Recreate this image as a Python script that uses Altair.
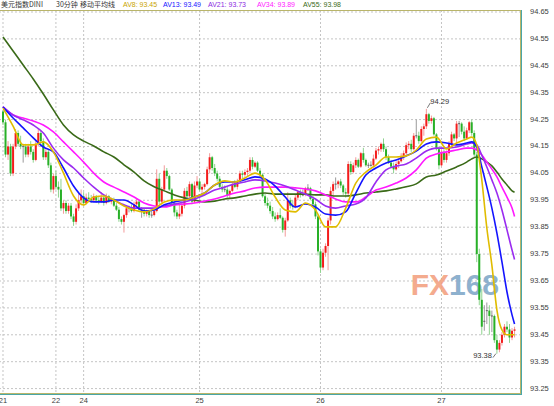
import altair as alt
import numpy as np
import pandas as pd

# ---- 30-minute candles of the US dollar index (bar 0 = first bar on the 21st) ----
opens = [
    94.280, 94.240, 94.120, 94.150, 94.050, 94.150, 94.200, 94.160, 94.150, 94.150,
    94.120, 94.150, 94.130, 94.100, 94.160, 94.200, 94.170, 94.110, 94.130, 94.080,
    93.990, 94.040, 94.000, 93.990, 93.920, 93.940, 93.910, 93.930, 93.890, 93.870,
    93.920, 93.950, 93.965, 93.940, 93.960, 93.955, 93.950, 93.965, 93.950, 93.945,
    93.960, 93.940, 93.965, 93.945, 93.955, 93.930, 93.915, 93.880, 93.870, 93.895,
    93.920, 93.920, 93.910, 93.935, 93.945, 93.915, 93.915, 93.900, 93.910, 93.895,
    93.895, 93.910, 94.030, 93.945, 93.990, 94.060, 94.040, 93.990, 93.940, 93.905,
    93.890, 93.900, 93.930, 93.985, 93.965, 94.010, 93.945, 94.005, 94.020, 93.990,
    94.000, 94.010, 94.065, 94.110, 94.070, 94.050, 94.030, 94.000, 93.990, 93.990,
    93.970, 93.985, 94.010, 94.000, 94.020, 94.050, 94.045, 94.055, 94.060, 94.100,
    94.075, 94.090, 94.060, 94.045, 93.965, 93.940, 93.930, 93.910, 93.890, 93.880,
    93.895, 93.885, 93.840, 93.875, 93.950, 93.930, 93.925, 93.960, 93.980, 93.970,
    93.970, 93.995, 93.995, 93.955, 93.935, 93.890, 93.760, 93.700, 93.755, 93.780,
    93.875, 93.985, 94.010, 94.010, 94.020, 94.005, 93.980, 93.975, 94.085, 94.055,
    94.080, 94.100, 94.075, 94.125, 94.100, 94.080, 94.080, 94.080, 94.105, 94.135,
    94.140, 94.160, 94.140, 94.110, 94.090, 94.075, 94.065, 94.085, 94.095, 94.115,
    94.125, 94.155, 94.160, 94.140, 94.190, 94.190, 94.170, 94.215, 94.225, 94.270,
    94.245, 94.255, 94.195, 94.140, 94.080, 94.130, 94.100, 94.125, 94.160, 94.195,
    94.180, 94.235, 94.235, 94.205, 94.180, 94.210, 94.240, 94.200, 94.120, 93.750,
    93.580, 93.500, 93.540, 93.540, 93.520, 93.520, 93.430, 93.395, 93.420, 93.450,
    93.480, 93.470, 93.440, 93.465,
]
highs = [
    94.285, 94.250, 94.170, 94.160, 94.160, 94.215, 94.210, 94.190, 94.160, 94.160,
    94.160, 94.170, 94.140, 94.175, 94.215, 94.210, 94.180, 94.140, 94.140, 94.090,
    94.050, 94.060, 94.020, 94.030, 93.950, 93.950, 93.940, 93.940, 93.900, 93.935,
    93.975, 93.990, 93.980, 93.975, 93.980, 93.970, 93.975, 93.970, 93.965, 93.980,
    93.970, 93.975, 93.970, 93.960, 93.960, 93.940, 93.925, 93.890, 93.900, 93.930,
    93.930, 93.935, 93.945, 93.955, 93.950, 93.925, 93.920, 93.915, 93.915, 93.910,
    93.915, 94.065, 94.050, 94.000, 94.080, 94.070, 94.045, 93.995, 93.950, 93.915,
    93.935, 93.940, 93.995, 94.000, 94.020, 94.015, 94.020, 94.040, 94.030, 94.010,
    94.015, 94.075, 94.125, 94.115, 94.085, 94.060, 94.040, 94.010, 94.005, 94.000,
    93.990, 94.020, 94.025, 94.030, 94.060, 94.060, 94.065, 94.070, 94.110, 94.110,
    94.095, 94.095, 94.070, 94.050, 93.975, 93.960, 93.945, 93.925, 93.905, 93.905,
    93.920, 93.890, 93.885, 93.980, 93.960, 93.950, 93.970, 93.985, 93.990, 93.990,
    94.000, 94.010, 94.000, 93.970, 93.945, 93.895, 93.770, 93.770, 93.790, 93.885,
    94.000, 94.020, 94.035, 94.025, 94.030, 94.010, 93.995, 94.095, 94.095, 94.090,
    94.110, 94.105, 94.130, 94.145, 94.105, 94.090, 94.095, 94.120, 94.145, 94.150,
    94.165, 94.180, 94.150, 94.120, 94.100, 94.090, 94.095, 94.105, 94.125, 94.135,
    94.165, 94.170, 94.175, 94.200, 94.250, 94.205, 94.225, 94.235, 94.290, 94.275,
    94.265, 94.260, 94.200, 94.150, 94.140, 94.140, 94.135, 94.170, 94.205, 94.200,
    94.245, 94.245, 94.240, 94.225, 94.220, 94.245, 94.250, 94.210, 94.130, 93.770,
    93.620, 93.560, 93.570, 93.560, 93.540, 93.525, 93.450, 93.430, 93.460, 93.490,
    93.500, 93.490, 93.475, 93.480,
]
lows = [
    94.230, 94.110, 94.100, 94.040, 94.040, 94.140, 94.150, 94.140, 94.090, 94.110,
    94.110, 94.120, 94.090, 94.095, 94.150, 94.160, 94.100, 94.100, 94.070, 93.980,
    93.975, 93.990, 93.960, 93.910, 93.900, 93.900, 93.900, 93.880, 93.855, 93.860,
    93.910, 93.940, 93.930, 93.935, 93.945, 93.940, 93.945, 93.940, 93.935, 93.940,
    93.930, 93.935, 93.940, 93.935, 93.925, 93.910, 93.870, 93.860, 93.830, 93.885,
    93.905, 93.905, 93.905, 93.925, 93.910, 93.885, 93.890, 93.890, 93.885, 93.885,
    93.890, 93.905, 93.935, 93.935, 93.985, 94.030, 93.985, 93.935, 93.890, 93.880,
    93.880, 93.890, 93.920, 93.960, 93.960, 93.935, 93.940, 93.995, 93.985, 93.975,
    93.990, 94.005, 94.050, 94.060, 94.040, 94.020, 93.995, 93.980, 93.980, 93.960,
    93.955, 93.980, 93.995, 93.990, 94.015, 94.030, 94.035, 94.040, 94.050, 94.065,
    94.070, 94.055, 94.035, 93.960, 93.930, 93.920, 93.900, 93.880, 93.870, 93.875,
    93.880, 93.830, 93.815, 93.870, 93.920, 93.915, 93.920, 93.950, 93.960, 93.965,
    93.965, 93.985, 93.950, 93.925, 93.880, 93.745, 93.680, 93.690, 93.740, 93.690,
    93.860, 93.965, 93.990, 93.995, 93.995, 93.970, 93.960, 93.970, 94.045, 94.050,
    94.070, 94.070, 94.070, 94.090, 94.075, 94.070, 94.075, 94.075, 94.100, 94.120,
    94.130, 94.130, 94.100, 94.085, 94.070, 94.050, 94.060, 94.070, 94.090, 94.100,
    94.120, 94.140, 94.130, 94.135, 94.180, 94.160, 94.165, 94.190, 94.215, 94.235,
    94.235, 94.190, 94.135, 94.065, 94.075, 94.090, 94.090, 94.115, 94.150, 94.170,
    94.160, 94.185, 94.195, 94.170, 94.175, 94.200, 94.190, 94.110, 93.720, 93.560,
    93.450, 93.465, 93.490, 93.450, 93.460, 93.420, 93.380, 93.385, 93.410, 93.440,
    93.460, 93.420, 93.430, 93.440,
]
closes = [
    94.240, 94.120, 94.150, 94.050, 94.150, 94.200, 94.160, 94.150, 94.150, 94.120,
    94.150, 94.130, 94.100, 94.160, 94.200, 94.170, 94.110, 94.130, 94.080, 93.990,
    94.040, 94.000, 93.990, 93.920, 93.940, 93.910, 93.930, 93.890, 93.870, 93.920,
    93.950, 93.965, 93.940, 93.960, 93.955, 93.950, 93.965, 93.950, 93.945, 93.960,
    93.940, 93.965, 93.945, 93.955, 93.930, 93.915, 93.880, 93.870, 93.895, 93.920,
    93.920, 93.910, 93.935, 93.945, 93.915, 93.915, 93.900, 93.910, 93.895, 93.895,
    93.910, 94.030, 93.945, 93.990, 94.060, 94.040, 93.990, 93.940, 93.905, 93.890,
    93.900, 93.930, 93.985, 93.965, 94.010, 93.945, 94.005, 94.020, 93.990, 94.000,
    94.010, 94.065, 94.110, 94.070, 94.050, 94.030, 94.000, 93.990, 93.990, 93.970,
    93.985, 94.010, 94.000, 94.020, 94.050, 94.045, 94.055, 94.060, 94.100, 94.075,
    94.090, 94.060, 94.045, 93.965, 93.940, 93.930, 93.910, 93.890, 93.880, 93.895,
    93.885, 93.840, 93.875, 93.950, 93.930, 93.925, 93.960, 93.980, 93.970, 93.970,
    93.995, 93.995, 93.955, 93.935, 93.890, 93.760, 93.700, 93.755, 93.780, 93.875,
    93.985, 94.010, 94.010, 94.020, 94.005, 93.980, 93.975, 94.085, 94.055, 94.080,
    94.100, 94.075, 94.125, 94.100, 94.080, 94.080, 94.080, 94.105, 94.135, 94.140,
    94.160, 94.140, 94.110, 94.090, 94.075, 94.065, 94.085, 94.095, 94.115, 94.125,
    94.155, 94.160, 94.140, 94.190, 94.190, 94.170, 94.215, 94.225, 94.270, 94.245,
    94.255, 94.195, 94.140, 94.080, 94.130, 94.100, 94.125, 94.160, 94.195, 94.180,
    94.235, 94.235, 94.205, 94.180, 94.210, 94.240, 94.200, 94.120, 93.750, 93.580,
    93.480, 93.500, 93.540, 93.520, 93.520, 93.430, 93.395, 93.420, 93.450, 93.480,
    93.470, 93.440, 93.465, 93.470,
]

# ---- moving averages, sampled at these bars ----
ma_bars = list(range(0, 185, 4)) + list(range(186, 203, 2)) + [203]
av8 = [
    94.293, 94.226, 94.156, 94.156, 94.167, 94.130, 94.051, 93.966, 93.933, 93.962,
    93.966, 93.951, 93.929, 93.914, 93.907, 93.918, 93.944, 93.951, 93.951, 93.962,
    93.977, 94.007, 94.022, 94.018, 94.033, 94.051, 94.026, 93.962, 93.914, 93.907,
    93.940, 93.914, 93.851, 93.851, 93.921, 94.014, 94.055, 94.081, 94.111, 94.111,
    94.115, 94.137, 94.178, 94.185, 94.141, 94.163, 94.178, 94.185, 94.156, 94.026,
    93.847, 93.709, 93.542, 93.468, 93.450, 93.450, 93.450,
]
av13 = [
    94.297, 94.256, 94.219, 94.182, 94.148, 94.130, 94.070, 94.003, 93.959, 93.944,
    93.944, 93.951, 93.951, 93.933, 93.910, 93.914, 93.933, 93.944, 93.951, 93.962,
    93.977, 94.007, 94.018, 94.018, 94.026, 94.037, 94.029, 94.003, 93.962, 93.925,
    93.936, 93.925, 93.899, 93.895, 93.907, 93.977, 94.044, 94.070, 94.089, 94.100,
    94.115, 94.133, 94.159, 94.167, 94.163, 94.156, 94.163, 94.167, 94.148, 94.074,
    94.000, 93.921, 93.828, 93.721, 93.609, 93.524, 93.490,
]
av21 = [
    94.297, 94.267, 94.249, 94.230, 94.200, 94.144, 94.100, 94.070, 94.033, 93.999,
    93.970, 93.951, 93.933, 93.921, 93.921, 93.921, 93.929, 93.936, 93.944, 93.955,
    93.970, 93.988, 93.999, 94.011, 94.018, 94.026, 94.022, 94.014, 94.003, 93.988,
    93.973, 93.955, 93.929, 93.921, 93.929, 93.936, 93.959, 94.018, 94.063, 94.077,
    94.085, 94.107, 94.133, 94.144, 94.144, 94.148, 94.159, 94.163, 94.156, 94.118,
    94.074, 94.026, 93.977, 93.914, 93.840, 93.765, 93.730,
]
av34 = [
    94.297, 94.267, 94.256, 94.245, 94.230, 94.204, 94.167, 94.130, 94.092, 94.051,
    94.018, 93.999, 93.981, 93.962, 93.940, 93.929, 93.925, 93.933, 93.936, 93.940,
    93.947, 93.955, 93.966, 93.977, 93.985, 93.996, 93.999, 93.999, 93.999, 93.996,
    93.992, 93.985, 93.970, 93.955, 93.944, 93.944, 93.962, 93.988, 93.999, 94.014,
    94.033, 94.063, 94.107, 94.122, 94.130, 94.137, 94.144, 94.144, 94.137, 94.118,
    94.092, 94.066, 94.037, 93.999, 93.962, 93.921, 93.890,
]
av55 = [
    94.557, 94.505, 94.453, 94.401, 94.345, 94.286, 94.230, 94.193, 94.170, 94.152,
    94.130, 94.111, 94.082, 94.055, 94.022, 94.000, 93.985, 93.970, 93.959, 93.951,
    93.944, 93.947, 93.955, 93.959, 93.966, 93.973, 93.977, 93.973, 93.973, 93.973,
    93.973, 93.970, 93.970, 93.966, 93.966, 93.970, 93.977, 93.981, 93.985, 93.992,
    94.000, 94.011, 94.037, 94.044, 94.059, 94.074, 94.092, 94.104, 94.111, 94.104,
    94.092, 94.078, 94.055, 94.029, 94.007, 93.985, 93.980,
]
ma_names = ["AV8", "AV13", "AV21", "AV34", "AV55"]
ma_series = [av8, av13, av21, av34, av55]
ma_line_colors = ["#e0bc00", "#1414ff", "#9a2cf0", "#ff19ff", "#3a6a18"]
ma_text_colors = ["#c8a400", "#1414ff", "#8a2be2", "#ff19ff", "#3a6a18"]

# ---- axis ticks ----
price_ticks = [93.25, 93.35, 93.45, 93.55, 93.65, 93.75, 93.85, 93.95,
               94.05, 94.15, 94.25, 94.35, 94.45, 94.55, 94.65]
day_labels = ["21", "22", "24", "25", "26", "27"]
day_bars = [0, 21, 32, 78, 126, 174]

title_parts = ["美元指数DINI", "30分钟", "移动平均线"]

# ---- layout ----
TOP = 10
W, H = 521, 384
xs = alt.Scale(domain=[-1.19, 205.56], nice=False, zero=False)
ys = alt.Scale(domain=[93.2299, 94.6574], nice=False, zero=False)
NUM_FONT = "Liberation Sans"
CJK_FONT = "Noto Sans CJK SC"

candles = pd.DataFrame({"bar": np.arange(len(opens)), "open": opens, "high": highs,
                        "low": lows, "close": closes})
candles["dir"] = np.where(candles.close > candles.open, "up",
                          np.where(candles.close < candles.open, "down", "flat"))

X = lambda f: alt.X(f, type="quantitative", scale=xs, axis=None)
Y = lambda f: alt.Y(f, type="quantitative", scale=ys, axis=None)

layers = []
one = pd.DataFrame({"k": [0]})

# dotted grid
grid_y = pd.DataFrame({"p": price_ticks})
layers.append(alt.Chart(grid_y).mark_rule(color="#c4c4c4", strokeWidth=1, strokeDash=[2, 2])
              .encode(y=Y("p")))
grid_x = pd.DataFrame({"bar": day_bars, "lab": day_labels})
layers.append(alt.Chart(grid_x).mark_rule(color="#c4c4c4", strokeWidth=1, strokeDash=[2, 2])
              .encode(x=X("bar")))

# watermark behind the data
layers.append(alt.Chart(one).mark_text(text="FX", font=NUM_FONT, fontWeight="bold", fontSize=30,
                                       color="#f3a282", opacity=0.9, align="right",
                                       baseline="middle")
              .encode(x=alt.value(449), y=alt.value(286 - TOP)))
layers.append(alt.Chart(one).mark_text(text="168", font=NUM_FONT, fontWeight="bold", fontSize=30,
                                       color="#82a9c9", opacity=0.9, align="left",
                                       baseline="middle")
              .encode(x=alt.value(449), y=alt.value(286 - TOP)))

# candles: pale wicks, solid bodies
wick_col = {"up": "#f39a9a", "down": "#8fd48f", "flat": "#9a9a9a"}
body_col = {"up": "#f41c1c", "down": "#28b028", "flat": "#707070"}
for d in ["up", "down", "flat"]:
    sub = candles[candles.dir == d]
    layers.append(alt.Chart(sub).mark_rule(color=wick_col[d], strokeWidth=1)
                  .encode(x=X("bar"), y=Y("low"), y2="high:Q"))
for d in ["up", "down"]:
    sub = candles[candles.dir == d]
    layers.append(alt.Chart(sub).mark_rule(color=body_col[d], strokeWidth=2)
                  .encode(x=X("bar"), y=Y("open"), y2="close:Q"))
flat = candles[candles.dir == "flat"]
layers.append(alt.Chart(flat).mark_rule(color=body_col["flat"], strokeWidth=1.2,
                                        xOffset=-1, x2Offset=1)
              .encode(x=X("bar"), x2="bar:Q", y=Y("close")))

# moving averages, slowest drawn first
for name, vals, col in reversed(list(zip(ma_names, ma_series, ma_line_colors))):
    dfm = pd.DataFrame({"bar": ma_bars, "v": vals})
    layers.append(alt.Chart(dfm).mark_line(color=col, strokeWidth=1.6, interpolate="monotone")
                  .encode(x=X("bar"), y=Y("v")))

# extreme-price callouts
hi_i = int(np.argmax(highs))
lo_i = int(np.argmin(lows))
ext = pd.DataFrame({"bar": [hi_i], "p": [highs[hi_i]], "t": [f"{highs[hi_i]:.2f}"]})
exl = pd.DataFrame({"bar": [lo_i], "p": [lows[lo_i]], "t": [f"{lows[lo_i]:.2f}"]})
layers.append(alt.Chart(ext).mark_rule(color="#555555", strokeWidth=0.8, xOffset=1, yOffset=-1,
                                       x2Offset=4, y2Offset=-6)
              .encode(x=X("bar"), x2="bar:Q", y=Y("p"), y2="p:Q"))
layers.append(alt.Chart(ext).mark_text(font=NUM_FONT, fontSize=7.5, color="#333333",
                                       align="left", baseline="alphabetic", dx=4, dy=-5)
              .encode(x=X("bar"), y=Y("p"), text="t:N"))
layers.append(alt.Chart(exl).mark_rule(color="#555555", strokeWidth=0.8, xOffset=-1, yOffset=0,
                                       x2Offset=-4, y2Offset=4)
              .encode(x=X("bar"), x2="bar:Q", y=Y("p"), y2="p:Q"))
layers.append(alt.Chart(exl).mark_text(font=NUM_FONT, fontSize=7.5, color="#333333",
                                       align="right", baseline="alphabetic", dx=-5, dy=4)
              .encode(x=X("bar"), y=Y("p"), text="t:N"))

# right-hand price labels and day labels
lab_y = pd.DataFrame({"p": price_ticks, "t": [f"{v:.2f}" for v in price_ticks]})
layers.append(alt.Chart(lab_y).mark_text(font=NUM_FONT, fontSize=7.5, color="#404040",
                                         align="left", baseline="middle")
              .encode(x=alt.value(W + 9), y=Y("p"), text="t:N"))
layers.append(alt.Chart(grid_x).mark_text(font=NUM_FONT, fontSize=7.5, color="#404040",
                                          align="center", baseline="middle")
              .encode(x=X("bar"), y=alt.value(H + 7), text="lab:N"))

# frame
layers.append(alt.Chart(one).mark_rule(color="#b9b56a", strokeWidth=1)
              .encode(x=alt.value(0), x2=alt.value(W), y=alt.value(0.5)))
layers.append(alt.Chart(one).mark_rule(color="#b9b56a", strokeWidth=1)
              .encode(x=alt.value(W - 0.5), y=alt.value(0), y2=alt.value(H)))
layers.append(alt.Chart(one).mark_rule(color="#4aa6a6", strokeWidth=1)
              .encode(x=alt.value(W + 0.5), y=alt.value(0), y2=alt.value(H + 1)))
layers.append(alt.Chart(one).mark_rule(color="#b9b56a", strokeWidth=1)
              .encode(x=alt.value(0), x2=alt.value(W), y=alt.value(H - 0.5)))
layers.append(alt.Chart(one).mark_rule(color="#4aa6a6", strokeWidth=1)
              .encode(x=alt.value(0), x2=alt.value(W + 1), y=alt.value(H + 0.5)))

# header line
head_x = [1, 56, 80]
for t, hx in zip(title_parts, head_x):
    layers.append(alt.Chart(one).mark_text(text=t, font=CJK_FONT, fontSize=7, color="#333333",
                                           align="left", baseline="middle")
                  .encode(x=alt.value(hx), y=alt.value(5 - TOP)))
ma_head_x = [123, 163, 208, 257, 303]
for name, vals, col, hx in zip(ma_names, ma_series, ma_text_colors, ma_head_x):
    layers.append(alt.Chart(one).mark_text(text=f"{name}: {vals[-1]:.2f}", font=NUM_FONT,
                                           fontSize=7, color=col, align="left",
                                           baseline="middle")
                  .encode(x=alt.value(hx), y=alt.value(5 - TOP)))

chart = (
    alt.layer(*layers)
    .properties(width=W, height=H, background="#ffffff",
                padding={"left": 0, "top": TOP, "right": 33, "bottom": 12},
                autosize=alt.AutoSizeParams(type="none"))
    .configure_view(stroke=None)
)
chart.save("out.html", embed_options={"renderer": "svg", "actions": False})
